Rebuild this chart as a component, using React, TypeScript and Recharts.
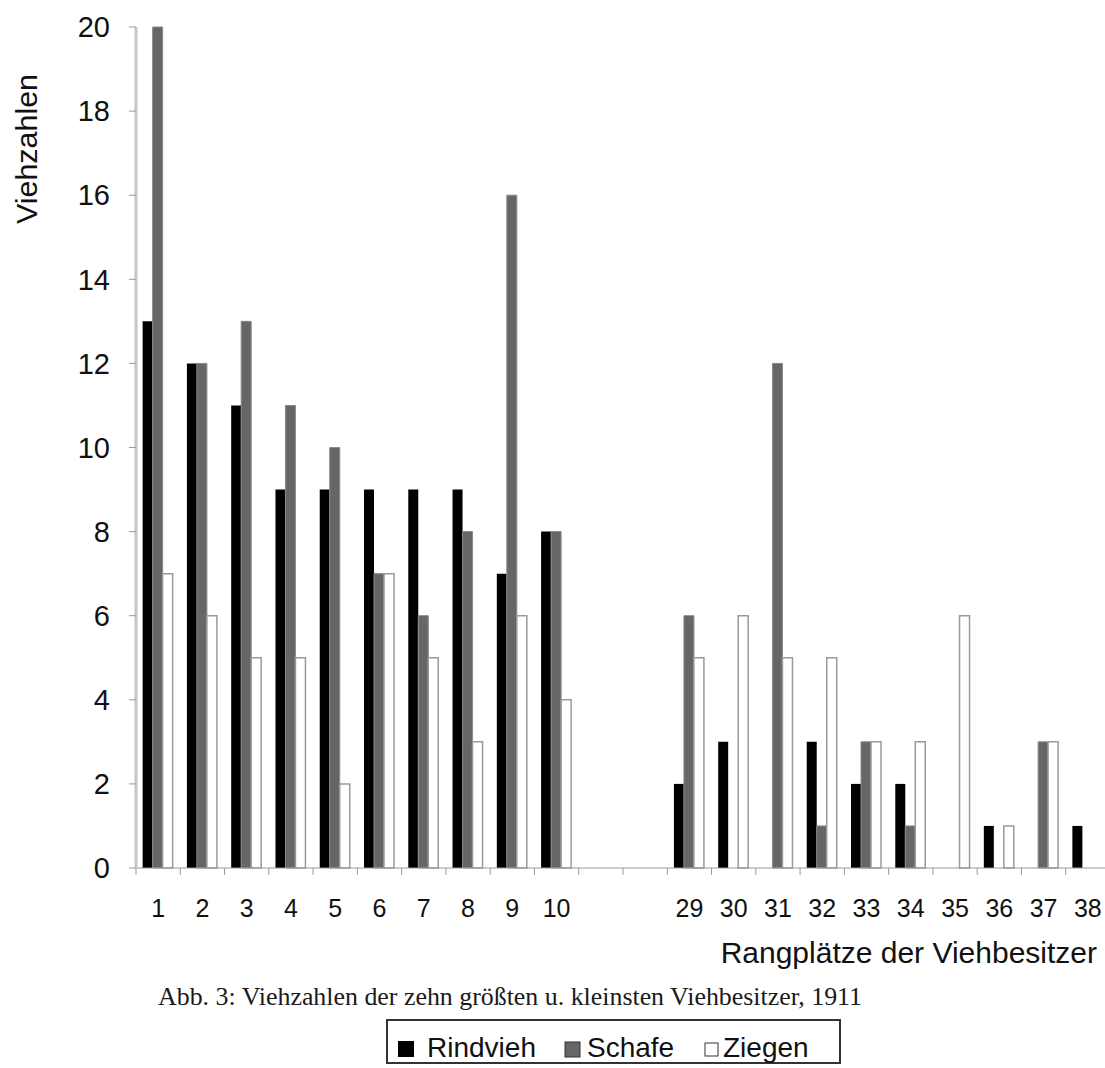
import React from "react";
import { BarChart, Bar, XAxis, YAxis } from "recharts";

// Rangplätze (two empty slots stand for the skipped ranks 11-28)
const CATEGORIES = ["1", "2", "3", "4", "5", "6", "7", "8", "9", "10", "", "", "29", "30", "31", "32", "33", "34", "35", "36", "37", "38"];
const RINDVIEH = [13, 12, 11, 9, 9, 9, 9, 9, 7, 8, null, null, 2, 3, 0, 3, 2, 2, 0, 1, 0, 1];
const SCHAFE = [20, 12, 13, 11, 10, 7, 6, 8, 16, 8, null, null, 6, 0, 12, 1, 3, 1, 0, 0, 3, 0];
const ZIEGEN = [7, 6, 5, 5, 2, 7, 5, 3, 6, 4, null, null, 5, 6, 5, 5, 3, 3, 6, 1, 3, 0];
const Y_TICKS = [0, 2, 4, 6, 8, 10, 12, 14, 16, 18, 20];

const data = CATEGORIES.map((name, i) => ({
  name,
  rindvieh: RINDVIEH[i],
  schafe: SCHAFE[i],
  ziegen: ZIEGEN[i],
}));

const SANS = "'Liberation Sans', Arial, sans-serif";
const SERIF = "'Liberation Serif', 'Times New Roman', serif";

const CHART_W = 1110;
const Y_AXIS_W = 136;
const BAND = (CHART_W - Y_AXIS_W) / CATEGORIES.length;

function XTick({ x, y, payload, index }: any) {
  const half = BAND / 2;
  const i = index ?? payload?.index;
  return (
    <g>
      <line x1={x - half} x2={x - half} y1={y} y2={y + 7} stroke="#999" />
      {i === CATEGORIES.length - 1 && (
        <line x1={x + half} x2={x + half} y1={y} y2={y + 7} stroke="#999" />
      )}
      <text x={x} y={y + 49} textAnchor="middle" fontSize={25} fontFamily={SANS} fill="#111">
        {payload.value}
      </text>
    </g>
  );
}

export default function App() {
  return (
    <div
      style={{
        position: "absolute",
        left: 0,
        top: 0,
        width: 1105,
        height: 1068,
        overflow: "hidden",
        background: "#fff",
      }}
    >
      <div style={{ position: "absolute", left: 0, top: 0 }}>
        <BarChart
          width={CHART_W}
          height={960}
          data={data}
          margin={{ top: 27, right: 0, bottom: 0, left: 0 }}
          barCategoryGap="15%"
          barGap={0}
        >
          <XAxis
            dataKey="name"
            interval={0}
            tickLine={false}
            tickSize={0}
            tickMargin={0}
            height={92}
            axisLine={{ stroke: "#999" }}
            tick={<XTick />}
          />
          <YAxis
            width={Y_AXIS_W}
            domain={[0, 20]}
            ticks={Y_TICKS}
            interval={0}
            tickSize={7}
            tickMargin={19}
            axisLine={{ stroke: "#c6c6c6", strokeWidth: 3 }}
            tickLine={{ stroke: "#999" }}
            tick={{ fontSize: 29, fill: "#111", fontFamily: SANS }}
          />
          <Bar dataKey="rindvieh" fill="#000" isAnimationActive={false} />
          <Bar dataKey="schafe" fill="#666" stroke="#8a8a8a" strokeWidth={1} isAnimationActive={false} />
          <Bar dataKey="ziegen" fill="#fff" stroke="#9a9a9a" strokeWidth={1.5} isAnimationActive={false} />
        </BarChart>
      </div>
      <svg
        width={1105}
        height={1068}
        style={{ position: "absolute", left: 0, top: 0, pointerEvents: "none" }}
      >
        <text
          transform="translate(37,149) rotate(-90)"
          textAnchor="middle"
          fontSize={30}
          textLength={150}
          lengthAdjust="spacingAndGlyphs"
          fontFamily={SANS}
          fill="#111"
        >
          Viehzahlen
        </text>
        <text x={1097} y={963} textAnchor="end" fontSize={30} fontFamily={SANS} fill="#111">
          Rangplätze der Viehbesitzer
        </text>
        <text
          x={510}
          y={1005}
          textAnchor="middle"
          fontSize={25}
          textLength={704}
          lengthAdjust="spacingAndGlyphs"
          fontFamily={SERIF}
          fill="#1a1a1a"
        >
          Abb. 3: Viehzahlen der zehn größten u. kleinsten Viehbesitzer, 1911
        </text>
        <rect x={387} y={1020} width={453} height={43} fill="#fff" stroke="#333" strokeWidth={2} />
        <rect x={398} y={1041} width={16} height={16} fill="#000" />
        <text x={427} y={1057} fontSize={28} fontFamily={SANS} fill="#111">Rindvieh</text>
        <rect x={565} y={1042} width={15} height={15} fill="#666" stroke="#333" strokeWidth={1} />
        <text x={587} y={1057} fontSize={28} fontFamily={SANS} fill="#111">Schafe</text>
        <rect x={705} y={1043} width={13} height={13} fill="#fff" stroke="#333" strokeWidth={1} />
        <text x={723} y={1057} fontSize={28} fontFamily={SANS} fill="#111">Ziegen</text>
      </svg>
    </div>
  );
}
